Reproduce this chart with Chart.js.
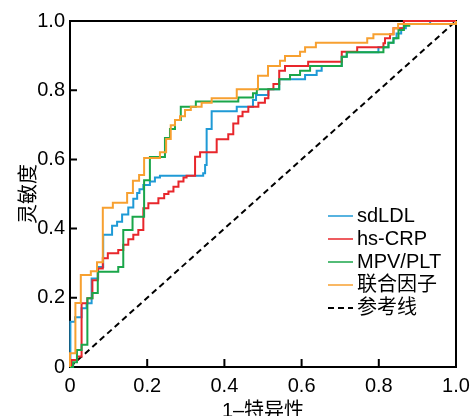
<!DOCTYPE html>
<html>
<head>
<meta charset="utf-8">
<script src="https://cdn.jsdelivr.net/npm/chart.js@4.4.0/dist/chart.umd.min.js"></script>
<style>
    html, body { margin: 0; padding: 0; background: #ffffff; }
    #wrap { width: 471px; height: 416px; }
</style>
</head>
<body>
<div id="wrap"><canvas id="rocChart" width="471" height="416"></canvas></div>
<script>
// ROC curves (1-specificity vs sensitivity)
const seriesNames = ['sdLDL', 'hs-CRP', 'MPV/PLT', '联合因子', '参考线'];
const seriesColors = ['#1f9ad6', '#e8262b', '#1aa64a', '#f7a030', '#000000'];
const xTickLabels = ['0', '0.2', '0.4', '0.6', '0.8', '1.0'];
const yTickLabels = ['0', '0.2', '0.4', '0.6', '0.8', '1.0'];

// step corners: horizontal move to x, then rise to y
const sdldlX = [0, 0.001, 0.013, 0.030, 0.043, 0.056, 0.073, 0.086, 0.109, 0.122, 0.135, 0.151, 0.164, 0.174, 0.180, 0.190, 0.207, 0.220, 0.233, 0.345, 0.350, 0.354, 0.367, 0.432, 0.474, 0.482, 0.514, 0.542, 0.609, 0.639, 0.652, 0.704, 0.717, 0.799, 0.825, 0.838, 0.846, 0.858, 0.870, 0.933, 1.0];
const sdldlY = [0, 0.131, 0.144, 0.170, 0.184, 0.256, 0.289, 0.382, 0.408, 0.420, 0.441, 0.461, 0.486, 0.503, 0.514, 0.526, 0.536, 0.548, 0.553, 0.560, 0.584, 0.688, 0.739, 0.752, 0.772, 0.786, 0.803, 0.832, 0.844, 0.856, 0.870, 0.897, 0.910, 0.924, 0.937, 0.950, 0.964, 0.979, 0.991, 1.0, 1.0];

const hscrpX = [0, 0.004, 0.019, 0.030, 0.045, 0.058, 0.072, 0.085, 0.098, 0.125, 0.138, 0.151, 0.164, 0.177, 0.190, 0.203, 0.229, 0.244, 0.255, 0.268, 0.281, 0.294, 0.302, 0.324, 0.337, 0.380, 0.410, 0.423, 0.436, 0.447, 0.462, 0.488, 0.505, 0.514, 0.527, 0.542, 0.557, 0.617, 0.704, 0.744, 0.812, 0.816, 0.829, 0.838, 0.865, 1.0];
const hscrpY = [0, 0.020, 0.030, 0.184, 0.199, 0.251, 0.285, 0.314, 0.329, 0.338, 0.353, 0.369, 0.382, 0.396, 0.459, 0.473, 0.488, 0.500, 0.507, 0.521, 0.536, 0.548, 0.553, 0.608, 0.621, 0.658, 0.673, 0.704, 0.725, 0.738, 0.752, 0.764, 0.777, 0.803, 0.818, 0.856, 0.870, 0.882, 0.911, 0.924, 0.936, 0.950, 0.962, 0.979, 1.0, 1.0];

const mpvX = [0, 0.008, 0.018, 0.030, 0.045, 0.058, 0.072, 0.125, 0.138, 0.162, 0.192, 0.207, 0.246, 0.259, 0.272, 0.287, 0.326, 0.436, 0.474, 0.484, 0.542, 0.570, 0.596, 0.622, 0.704, 0.717, 0.812, 0.825, 0.838, 0.851, 0.865, 0.879, 1.0];
const mpvY = [0, 0.014, 0.049, 0.064, 0.199, 0.214, 0.275, 0.289, 0.396, 0.434, 0.540, 0.607, 0.662, 0.688, 0.714, 0.752, 0.767, 0.779, 0.791, 0.803, 0.832, 0.844, 0.856, 0.870, 0.897, 0.910, 0.924, 0.937, 0.950, 0.974, 0.986, 0.991, 1.0];

const comboX = [0, 0, 0.014, 0.028, 0.054, 0.070, 0.085, 0.111, 0.148, 0.163, 0.179, 0.192, 0.233, 0.249, 0.261, 0.272, 0.285, 0.298, 0.313, 0.341, 0.367, 0.432, 0.487, 0.513, 0.544, 0.557, 0.596, 0.609, 0.637, 0.770, 0.786, 0.838, 0.850, 1.0];
const comboY = [0, 0.040, 0.185, 0.266, 0.277, 0.303, 0.460, 0.475, 0.503, 0.538, 0.555, 0.604, 0.621, 0.659, 0.699, 0.714, 0.725, 0.743, 0.752, 0.764, 0.777, 0.803, 0.842, 0.870, 0.885, 0.899, 0.911, 0.924, 0.937, 0.950, 0.962, 0.979, 0.991, 1.0];

const refX = [0, 1];
const refY = [0, 1];

function toPoints(xs, ys) {
    return xs.map((x, i) => ({ x: x, y: ys[i] }));
}

Chart.defaults.font.family = "'Liberation Sans', 'Noto Sans CJK SC', sans-serif";
Chart.defaults.color = '#000000';

// box round the plot and inward tick marks
const framePlugin = {
    id: 'frame',
    beforeDatasetsDraw(chart) {
        const ctx = chart.ctx;
        const area = chart.chartArea;
        const xs = chart.scales.x;
        const ys = chart.scales.y;
        ctx.save();
        ctx.strokeStyle = '#000000';
        ctx.lineWidth = 2;
        ctx.strokeRect(area.left, area.top, area.right - area.left, area.bottom - area.top);
        ctx.beginPath();
        xs.ticks.forEach(t => {
            const px = xs.getPixelForValue(t.value);
            ctx.moveTo(px, area.bottom);
            ctx.lineTo(px, area.bottom - 8);
        });
        ys.ticks.forEach(t => {
            const py = ys.getPixelForValue(t.value);
            ctx.moveTo(area.left, py);
            ctx.lineTo(area.left + 7, py);
        });
        ctx.stroke();
        ctx.restore();
    },
    afterDraw(chart) {
        // legend in the lower right of the plot
        const ctx = chart.ctx;
        const lineLeft = 328, lineRight = 353, textLeft = 357;
        const rowTop = 216, rowGap = 23;
        ctx.save();
        ctx.font = "20px 'Liberation Sans', 'Noto Sans CJK SC', sans-serif";
        ctx.textBaseline = 'middle';
        ctx.textAlign = 'left';
        chart.data.datasets.forEach((ds, i) => {
            const y = rowTop + i * rowGap;
            ctx.strokeStyle = ds.borderColor;
            ctx.lineWidth = ds.borderDash ? 2 : 1.5;
            ctx.setLineDash(ds.borderDash || []);
            ctx.beginPath();
            ctx.moveTo(lineLeft, y);
            ctx.lineTo(lineRight, y);
            ctx.stroke();
            ctx.setLineDash([]);
            ctx.fillStyle = '#000000';
            ctx.fillText(ds.label, textLeft, y);
        });
        ctx.restore();
    }
};

function stepSeries(i, xs, ys, order) {
    return {
        label: seriesNames[i],
        data: toPoints(xs, ys),
        borderColor: seriesColors[i],
        borderWidth: 2,
        showLine: true,
        stepped: true,
        pointRadius: 0,
        fill: false,
        clip: false,
        order: order
    };
}

const ctx = document.getElementById('rocChart').getContext('2d');
const rocChart = new Chart(ctx, {
    type: 'scatter',
    data: {
        datasets: [
            stepSeries(0, sdldlX, sdldlY, 4),
            stepSeries(1, hscrpX, hscrpY, 3),
            stepSeries(2, mpvX, mpvY, 2),
            stepSeries(3, comboX, comboY, 1),
            {
                label: seriesNames[4],
                data: toPoints(refX, refY),
                borderColor: seriesColors[4],
                borderWidth: 2,
                borderDash: [6, 4],
                showLine: true,
                pointRadius: 0,
                fill: false,
                order: 5
            }
        ]
    },
    options: {
        responsive: false,
        animation: false,
        layout: {
            padding: { left: 0, right: 15, top: 21, bottom: 0 }
        },
        plugins: {
            legend: { display: false },
            tooltip: { enabled: false }
        },
        scales: {
            x: {
                type: 'linear',
                min: 0,
                max: 1,
                grid: { display: false, drawTicks: false },
                border: { display: false },
                ticks: {
                    stepSize: 0.2,
                    padding: 7,
                    font: { size: 20 },
                    color: '#000000',
                    maxRotation: 0,
                    callback: function(value, index) {
                        return xTickLabels[index];
                    }
                },
                title: {
                    display: true,
                    text: '1–特异性',
                    font: { size: 20, lineHeight: 1 },
                    color: '#000000',
                    padding: { top: 0, bottom: -5 }
                },
                afterFit: function(scale) {
                    scale.height = 49;
                    scale.paddingLeft = 0;
                    scale.paddingRight = 0;
                }
            },
            y: {
                type: 'linear',
                min: 0,
                max: 1,
                grid: { display: false, drawTicks: false },
                border: { display: false },
                ticks: {
                    stepSize: 0.2,
                    padding: 5,
                    font: { size: 20 },
                    color: '#000000',
                    callback: function(value, index) {
                        return yTickLabels[index];
                    }
                },
                title: {
                    display: true,
                    text: '灵敏度',
                    font: { size: 20, lineHeight: 1 },
                    color: '#000000',
                    padding: { top: 19, bottom: 0 }
                },
                afterFit: function(scale) {
                    scale.width = 70;
                    scale.paddingTop = 0;
                    scale.paddingBottom = 0;
                }
            }
        }
    },
    plugins: [framePlugin]
});
</script>
</body>
</html>
